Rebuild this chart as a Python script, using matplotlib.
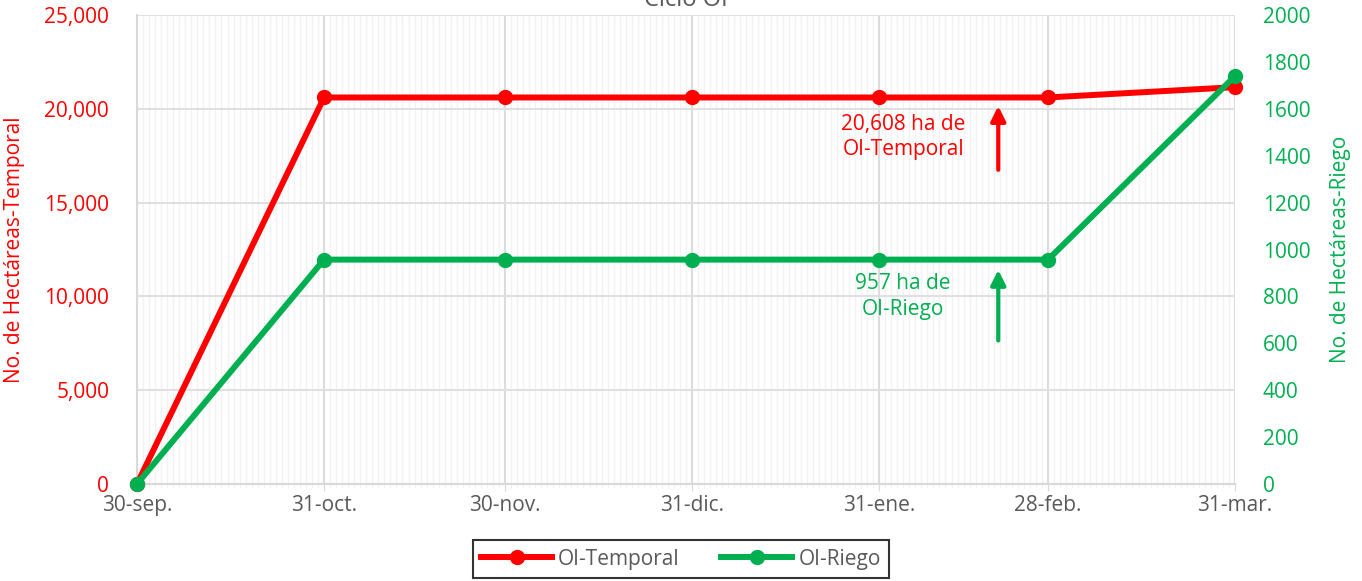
import matplotlib
matplotlib.use("Agg")
from matplotlib import pyplot as plt
import matplotlib.dates as mdates
import numpy as np
import datetime as dt

# fechas de corte del ciclo OI
fechas = ["2022-09-30", "2022-10-31", "2022-11-30", "2022-12-31",
          "2023-01-31", "2023-02-28", "2023-03-31"]
etiquetas = ["30-sep.", "31-oct.", "30-nov.", "31-dic.", "31-ene.", "28-feb.", "31-mar."]
temporal = [0, 20608, 20608, 20608, 20608, 20608, 21160]
riego = [0, 957, 957, 957, 957, 957, 1740]

ROJO = "#FF0000"
VERDE = "#00B050"
GRIS = "#595959"
FS = 15

plt.rcParams['font.family'] = ['Open Sans', 'DejaVu Sans']

x = [dt.datetime.strptime(f, "%Y-%m-%d") for f in fechas]

fig = plt.figure(figsize=(13.62, 5.81), dpi=100)
ax = fig.add_axes([0.1006, 0.167, 0.8062, 0.807])
ax2 = ax.twinx()

# grid: daily minor lines + major at the dates
ax.set_xlim(x[0], x[-1])
ax.set_xticks(x)
ax.set_xticklabels(etiquetas)
ax.xaxis.set_minor_locator(mdates.DayLocator())
ax.grid(which="minor", axis="x", color="#f2f2f2", lw=1)
ax.grid(which="major", axis="x", color="#dcdcdc", lw=1.5)
ax.grid(which="major", axis="y", color="#e0e0e0", lw=1.5)
ax.set_axisbelow(True)

ax.set_ylim(0, 25000)
ax.set_yticks(np.arange(0, 25001, 5000))
ax.yaxis.set_major_formatter(matplotlib.ticker.FuncFormatter(lambda v, p: f"{v:,.0f}"))
ax2.set_ylim(0, 2000)
ax2.set_yticks(np.arange(0, 2001, 200))

for a in (ax, ax2):
    for s in a.spines.values():
        s.set_visible(False)
ax.spines["bottom"].set_visible(True)
ax.spines["bottom"].set_color("#d9d9d9")
ax.spines["bottom"].set_linewidth(1.5)
ax.spines["left"].set_visible(True)
ax.spines["left"].set_color("#d9d9d9")
ax.spines["left"].set_linewidth(1.5)

ax.tick_params(axis="y", length=0, colors=ROJO, labelsize=FS, pad=20)
ax2.tick_params(axis="y", length=0, colors=VERDE, labelsize=FS, pad=20)
ax.tick_params(axis="x", which="major", length=5, color="#d9d9d9", labelcolor=GRIS, labelsize=FS, pad=3)
ax.tick_params(axis="x", which="minor", length=3, color="#eeeeee")

l1, = ax.plot(x, temporal, color=ROJO, lw=4.3, marker="o", ms=10, label="OI-Temporal", zorder=3)
l2, = ax2.plot(x, riego, color=VERDE, lw=4.3, marker="o", ms=10, label="OI-Riego", zorder=3)
for m in (l1, l2):
    m.set_clip_on(False)

ax.set_ylabel("No. de Hectáreas-Temporal", color=ROJO, fontsize=FS, labelpad=14)
ax2.set_ylabel("No. de Hectáreas-Riego", color=VERDE, fontsize=FS, labelpad=14)

# anotaciones con flechas
flecha_x = dt.datetime(2023, 2, 19, 18)
ax.text(dt.datetime(2023, 2, 4), 18500, "20,608 ha de\nOI-Temporal", color=ROJO,
        fontsize=FS, ha="center", va="center", linespacing=1.3)
ax.annotate("", xy=(flecha_x, 20300), xytext=(flecha_x, 16600),
            arrowprops=dict(arrowstyle="-|>", color=ROJO, lw=3, mutation_scale=22))
ax2.text(dt.datetime(2023, 2, 4), 800, "957 ha de\nOI-Riego", color=VERDE,
         fontsize=FS, ha="center", va="center", linespacing=1.3)
ax2.annotate("", xy=(flecha_x, 925), xytext=(flecha_x, 600),
             arrowprops=dict(arrowstyle="-|>", color=VERDE, lw=3, mutation_scale=22))

fig.text(0.5037, 1.0, "Ciclo OI", color=GRIS, fontsize=17, ha="center", va="center")

leg = fig.legend(handles=[l1, l2], loc="center", bbox_to_anchor=(0.5, 0.0378),
                 ncol=2, frameon=True, fancybox=False, fontsize=FS,
                 handlelength=3.4, columnspacing=2.0, borderpad=0.4, handletextpad=0.3)
leg.get_frame().set_edgecolor("black")
leg.get_frame().set_linewidth(1.5)
for t in leg.get_texts():
    t.set_color(GRIS)

fig.savefig("out.png", dpi=100)
